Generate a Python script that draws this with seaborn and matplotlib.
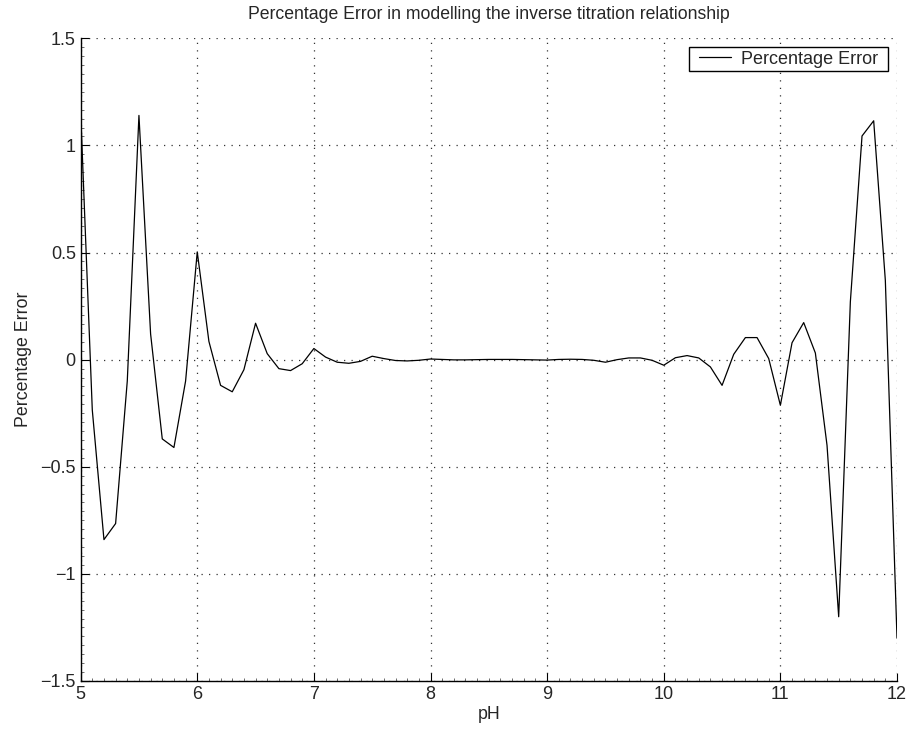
import matplotlib
matplotlib.use("Agg")
import matplotlib.pyplot as plt
from matplotlib.path import Path
from matplotlib.ticker import AutoMinorLocator
import numpy as np
import pandas as pd
import seaborn as sns

# pH sample grid and the percentage error of the inverse titration model
ph = [5.0, 5.1, 5.2, 5.3, 5.4, 5.5, 5.6, 5.7, 5.8, 5.9,
      6.0, 6.1, 6.2, 6.3, 6.4, 6.5, 6.6, 6.7, 6.8, 6.9,
      7.0, 7.1, 7.2, 7.3, 7.4, 7.5, 7.6, 7.7, 7.8, 7.9,
      8.0, 8.1, 8.2, 8.3, 8.4, 8.5, 8.6, 8.7, 8.8, 8.9,
      9.0, 9.1, 9.2, 9.3, 9.4, 9.5, 9.6, 9.7, 9.8, 9.9,
      10.0, 10.1, 10.2, 10.3, 10.4, 10.5, 10.6, 10.7, 10.8, 10.9,
      11.0, 11.1, 11.2, 11.3, 11.4, 11.5, 11.6, 11.7, 11.8, 11.9,
      12.0]
pct_error = [1.16, -0.235, -0.84, -0.765, -0.10, 1.14, 0.12, -0.37, -0.41, -0.10,
             0.503, 0.085, -0.12, -0.15, -0.047, 0.17, 0.028, -0.042, -0.051, -0.019,
             0.052, 0.012, -0.012, -0.017, -0.008, 0.016, 0.005, -0.004, -0.006, -0.003,
             0.003, 0.001, -0.001, -0.001, 0.0, 0.001, 0.001, 0.001, 0.0, -0.001,
             -0.002, 0.001, 0.002, 0.001, -0.003, -0.012, 0.0, 0.008, 0.008, -0.003,
             -0.026, 0.009, 0.019, 0.008, -0.034, -0.12, 0.025, 0.103, 0.103, 0.005,
             -0.213, 0.079, 0.173, 0.031, -0.40, -1.20, 0.27, 1.044, 1.115, 0.37,
             -1.30]

x_ticks = [5, 6, 7, 8, 9, 10, 11, 12]
y_ticks = [-1.5, -1, -0.5, 0, 0.5, 1, 1.5]
y_tick_labels = ["\u22121.5", "\u22121", "\u22120.5", "0", "0.5", "1", "1.5"]

sns.set_style("white")
plt.rcParams["font.family"] = ["Liberation Sans", "DejaVu Sans"]

df = pd.DataFrame({"pH": ph, "Percentage Error": pct_error})

fig = plt.figure(figsize=(9.09, 7.31), dpi=100)
ax = fig.add_axes([0.0887, 0.0684, 0.8981, 0.8792])

sns.lineplot(data=df, x="pH", y="Percentage Error", ax=ax, color="black",
             linewidth=0.9, label="Percentage Error")

ax.set_xlim(5, 12)
ax.set_ylim(-1.5, 1.5)
ax.set_xticks(x_ticks)
ax.set_xticklabels([str(t) for t in x_ticks])
ax.set_yticks(y_ticks)
ax.set_yticklabels(y_tick_labels)
ax.xaxis.set_minor_locator(AutoMinorLocator(10))
ax.yaxis.set_minor_locator(AutoMinorLocator(12))

ax.tick_params(axis="both", which="both", bottom=True, left=True, top=False, right=False)
ax.tick_params(axis="both", which="major", direction="in", length=6, width=0.8,
               color="black", labelsize=13, pad=3.5)
ax.tick_params(axis="both", which="minor", direction="in", length=2.5, width=0.6,
               color="#555555")

for side in ["top", "right"]:
    ax.spines[side].set_visible(False)
for side in ["left", "bottom"]:
    ax.spines[side].set_visible(True)
    ax.spines[side].set_color("black")
    ax.spines[side].set_linewidth(1.0)

ax.grid(True, which="major", linestyle=(0, (1, 5)), linewidth=0.9, color="#333333")

ax.set_title("Percentage Error in modelling the inverse titration relationship",
             fontsize=12.7, pad=14)
ax.set_xlabel("pH", fontsize=12.8, labelpad=2.5)
ax.set_ylabel("Percentage Error", fontsize=12.8, labelpad=6)


def wide_box(x0, y0, width, height, mutation_size):
    # rectangular legend frame with extra room on the left and right
    extra = 6.0
    x0 -= extra
    x1 = x0 + width + 2 * extra
    y1 = y0 + height
    return Path([(x0, y0), (x1, y0), (x1, y1), (x0, y1), (x0, y0)], closed=True)


leg = ax.legend(loc="upper right", bbox_to_anchor=(0.9816, 0.9865), borderaxespad=0,
                fontsize=13, frameon=True, fancybox=False, framealpha=1,
                edgecolor="black", borderpad=0.2, handlelength=1.8,
                handletextpad=0.55)
leg.get_frame().set_boxstyle(wide_box)
leg.get_frame().set_linewidth(1.0)

fig.savefig("out.png", dpi=100)
